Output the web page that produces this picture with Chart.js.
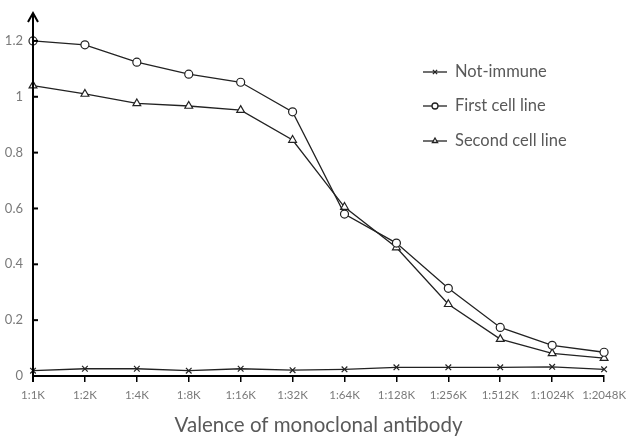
<!DOCTYPE html>
<html>
<head>
<meta charset="utf-8">
<script src="https://cdn.jsdelivr.net/npm/chart.js@4.4.0/dist/chart.umd.min.js"></script>
<style>
  html, body { margin: 0; padding: 0; background: #fff; }
  #wrap { width: 632px; height: 442px; }
</style>
</head>
<body>
<div id="wrap"><canvas id="chart" width="632" height="442"></canvas></div>
<script>
const dilutions = ["1:1K", "1:2K", "1:4K", "1:8K", "1:16K", "1:32K", "1:64K", "1:128K", "1:256K", "1:512K", "1:1024K", "1:2048K"];
const notImmune = [0.019, 0.026, 0.026, 0.019, 0.026, 0.021, 0.024, 0.031, 0.031, 0.031, 0.033, 0.024];
const firstLine = [1.2, 1.186, 1.124, 1.081, 1.052, 0.946, 0.58, 0.476, 0.314, 0.174, 0.110, 0.085];
const secondLine = [1.04, 1.01, 0.976, 0.967, 0.952, 0.845, 0.605, 0.46, 0.257, 0.132, 0.081, 0.064];
const yTicks = [0, 0.2, 0.4, 0.6, 0.8, 1, 1.2];

const FONT = "Lato, 'Open Sans', sans-serif";
const GRAY = "#7a7a7a";

// axis arrow, inward y ticks and the legend
const decor = {
  id: "decor",
  afterDraw(chart) {
    const ctx = chart.ctx;
    const y = chart.scales.y;
    const ax = y.right;
    ctx.save();
    ctx.strokeStyle = "#000";
    ctx.lineWidth = 2;
    ctx.beginPath();
    ctx.moveTo(ax, y.bottom + 6);
    ctx.lineTo(ax, y.top);
    ctx.stroke();
    ctx.beginPath();
    ctx.moveTo(ax - 5, y.top + 9);
    ctx.lineTo(ax, y.top);
    ctx.lineTo(ax + 5, y.top + 9);
    ctx.stroke();
    yTicks.forEach(v => {
      const py = y.getPixelForValue(v);
      ctx.beginPath();
      ctx.moveTo(ax, py);
      ctx.lineTo(ax + 5, py);
      ctx.stroke();
    });

    // legend
    const lx = 423, ly = [72, 106, 141];
    chart.data.datasets.forEach((ds, i) => {
      ctx.strokeStyle = "#222";
      ctx.lineWidth = 1.3;
      ctx.beginPath();
      ctx.moveTo(lx, ly[i]);
      ctx.lineTo(lx + 24, ly[i]);
      ctx.stroke();
      ctx.fillStyle = "#fff";
      Chart.helpers.drawPoint(ctx, {
        pointStyle: ds.pointStyle, radius: 3, rotation: 0, borderWidth: 1.2
      }, lx + 12, ly[i]);
      ctx.fillStyle = "#595959";
      ctx.font = "16.5px " + FONT;
      ctx.textBaseline = "middle";
      ctx.textAlign = "left";
      ctx.fillText(ds.label, lx + 32, ly[i]);
    });
    ctx.restore();
  }
};

const ctx = document.getElementById("chart").getContext("2d");
const common = { borderColor: "#222", borderWidth: 1.3, pointBorderColor: "#222", pointBackgroundColor: "#fff", pointBorderWidth: 1.2, tension: 0 };

new Chart(ctx, {
  type: "line",
  data: {
    labels: dilutions,
    datasets: [
      Object.assign({ label: "Not-immune", data: notImmune, pointStyle: "crossRot", pointRadius: 4 }, common),
      Object.assign({ label: "First cell line", data: firstLine, pointStyle: "circle", pointRadius: 4 }, common),
      Object.assign({ label: "Second cell line", data: secondLine, pointStyle: "triangle", pointRadius: 4.5 }, common)
    ]
  },
  options: {
    responsive: false,
    animation: false,
    layout: { padding: { top: 13, right: 25, left: 0, bottom: 0 } },
    plugins: { legend: { display: false }, tooltip: { enabled: false } },
    scales: {
      x: {
        offset: false,
        afterFit: s => { s.height = 66; },
        border: { display: true, color: "#000", width: 2 },
        grid: { display: true, drawOnChartArea: false, drawTicks: true, tickLength: 6, color: "#000", lineWidth: 1.5 },
        ticks: { color: GRAY, font: { family: FONT, size: 11.5 }, padding: 6, maxRotation: 0, autoSkip: false },
        title: { display: true, text: "Valence of monoclonal antibody", color: "#595959", font: { family: FONT, size: 20.5 }, padding: { top: 12 } }
      },
      y: {
        min: 0,
        max: 1.3,
        afterFit: s => { s.width = 33; },
        afterBuildTicks: s => { s.ticks = yTicks.map(v => ({ value: v })); },
        border: { display: false },
        grid: { display: false },
        ticks: { color: GRAY, font: { family: FONT, size: 13 }, padding: 2, callback: v => String(v) }
      }
    }
  },
  plugins: [decor]
});
</script>
</body>
</html>
